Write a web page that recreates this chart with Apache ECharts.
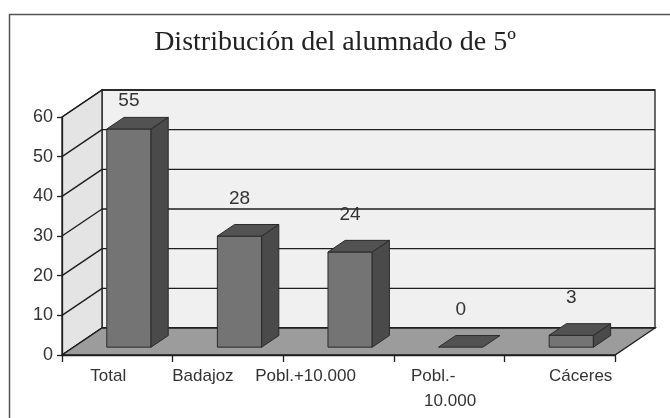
<!DOCTYPE html>
<html><head><meta charset="utf-8">
<script src="https://cdn.jsdelivr.net/npm/echarts@6/dist/echarts.min.js"></script>
<style>html,body{margin:0;padding:0;background:#fff}#c{width:670px;height:418px}</style>
</head><body><div id="c"></div>
<script>
// ---- data ----
const titleText = 'Distribución del alumnado de 5º';
const categories = ['Total', 'Badajoz', 'Pobl.+10.000', 'Pobl.-\n10.000', 'Cáceres'];
const values = [55, 28, 24, 0, 3];
const yMin = 0, yMax = 60, yStep = 10;
const yTicks = [0, 10, 20, 30, 40, 50, 60];

// ---- style / layout ----
const DX = 40, DY = -27;          // 3D depth offset
const F1 = 0.29, F2 = 0.72;       // bar front/back depth fraction
const BAR_FRAC = 0.4;             // bar width relative to band
const LINE = '#1e1e1e';
const FONT = '"Liberation Sans", Arial, sans-serif';
// horizontal nudge of each category label (px), per line
const labelNudge = [[-9], [-25], [-33], [-16, 1], [21]];

const rich = {};
labelNudge.forEach((arr, i) => arr.forEach((d, j) => {
  rich['s' + i + '_' + j] = {
    fontSize: 17, fontFamily: FONT, color: '#333', lineHeight: 25,
    padding: d < 0 ? [0, -2 * d, 0, 0] : [0, 0, 0, 2 * d]
  };
}));

function renderWalls(params, api) {
  const cs = params.coordSys;
  const x0 = cs.x, x1 = cs.x + cs.width, yT = cs.y, yB = cs.y + cs.height;
  const ch = [];
  ch.push({ type: 'polygon', shape: { points: [[x0 + DX, yT + DY], [x1 + DX, yT + DY], [x1 + DX, yB + DY], [x0 + DX, yB + DY]] },
    style: { fill: '#f0f0f0', stroke: LINE, lineWidth: 1.3 } });
  ch.push({ type: 'polygon', shape: { points: [[x0, yT], [x0 + DX, yT + DY], [x0 + DX, yB + DY], [x0, yB]] },
    style: { fill: '#e4e4e4', stroke: LINE, lineWidth: 1.3 } });
  yTicks.forEach(v => {
    const y = api.coord([0, v])[1];
    ch.push({ type: 'line', shape: { x1: x0 + DX, y1: y + DY, x2: x1 + DX, y2: y + DY }, style: { stroke: LINE, lineWidth: 1.4 } });
    ch.push({ type: 'line', shape: { x1: x0, y1: y, x2: x0 + DX, y2: y + DY }, style: { stroke: LINE, lineWidth: 1.4 } });
  });
  ch.push({ type: 'polygon', shape: { points: [[x0, yB], [x1, yB], [x1 + DX, yB + DY], [x0 + DX, yB + DY]] },
    style: { fill: '#9c9c9c', stroke: LINE, lineWidth: 1.3 } });
  return { type: 'group', children: ch };
}

function renderBar(params, api) {
  const i = api.value(0), v = api.value(1);
  const base = api.coord([i, 0]);
  const top = api.coord([i, v]);
  const band = api.size([1, 0])[0];
  const w = band * BAR_FRAC;
  const xl = base[0] - w / 2, xr = base[0] + w / 2;
  const ox1 = F1 * DX, oy1 = F1 * DY, ox2 = F2 * DX, oy2 = F2 * DY;
  const fy0 = base[1] + oy1, fyT = top[1] + oy1;
  const by0 = base[1] + oy2, byT = top[1] + oy2;
  const wallTop = params.coordSys.y + DY;
  const ch = [];
  if (v > 0) {
    ch.push({ type: 'polygon', shape: { points: [[xl + ox1, fyT], [xr + ox1, fyT], [xr + ox1, fy0], [xl + ox1, fy0]] },
      style: { fill: '#747474', stroke: '#2a2a2a', lineWidth: 1 } });
    ch.push({ type: 'polygon', shape: { points: [[xr + ox1, fy0], [xr + ox1, fyT], [xr + ox2, byT], [xr + ox2, by0]] },
      style: { fill: '#4a4a4a', stroke: '#2a2a2a', lineWidth: 1 } });
  }
  ch.push({ type: 'polygon', shape: { points: [[xl + ox1, fyT], [xr + ox1, fyT], [xr + ox2, byT], [xl + ox2, byT]] },
    style: { fill: '#525252', stroke: '#2a2a2a', lineWidth: 1 } });
  ch.push({ type: 'text', z2: 50, style: {
    text: String(v), x: base[0] + ox1, y: Math.max(byT - 26, wallTop + 11),
    align: 'center', verticalAlign: 'middle', fill: '#333', font: '19px ' + FONT } });
  return { type: 'group', children: ch };
}

const chart = echarts.init(document.getElementById('c'), null, { renderer: 'canvas' });
chart.setOption({
  animation: false,
  backgroundColor: '#fff',
  title: { text: titleText, left: 'center', top: 24,
    textStyle: { fontFamily: '"Liberation Serif", "Times New Roman", serif', fontSize: 28, fontWeight: 'normal', color: '#222' } },
  graphic: [{ type: 'rect', left: 7, top: 12, shape: { width: 700, height: 440 },
    style: { fill: null, stroke: '#555', lineWidth: 1.5 }, z: 100 }],
  grid: { left: 62, right: 55, top: 117, bottom: 63, containLabel: false, outerBoundsMode: 'none' },
  xAxis: {
    type: 'category', data: categories, boundaryGap: true, z: 10,
    axisLine: { lineStyle: { color: LINE, width: 1.3 } },
    axisTick: { show: true, length: 7, lineStyle: { color: LINE, width: 1.3 } },
    axisLabel: { margin: 9, interval: 0, rich,
      formatter: (val, idx) => val.split('\n').map((s, j) => '{s' + idx + '_' + j + '|' + s + '}').join('\n') },
    splitLine: { show: false }
  },
  yAxis: {
    type: 'value', min: yMin, max: yMax, interval: yStep, z: 10,
    axisLine: { show: true, lineStyle: { color: LINE, width: 1.3 } },
    axisTick: { show: true, length: 5, lineStyle: { color: LINE, width: 1.3 } },
    axisLabel: { fontSize: 18, fontFamily: FONT, color: '#333', margin: 9 },
    splitLine: { show: false }
  },
  series: [
    { type: 'custom', name: 'walls', z: 1, silent: true, renderItem: renderWalls, data: [[0, 0]] },
    { type: 'custom', name: 'Alumnado', z: 3, renderItem: renderBar,
      data: values.map((v, i) => [i, v]) }
  ]
});
</script>
</body></html>
